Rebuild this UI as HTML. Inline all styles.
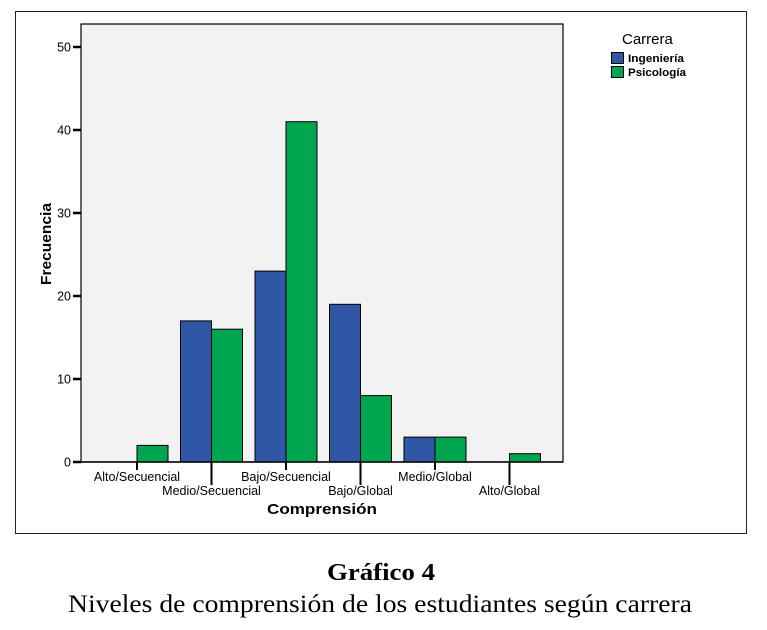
<!DOCTYPE html>
<html><head><meta charset="utf-8"><style>
body{margin:0;background:#fff;width:767px;height:630px;overflow:hidden}
svg{display:block}
</style></head><body>
<svg width="767" height="630" xmlns="http://www.w3.org/2000/svg" font-family="Liberation Sans, sans-serif">
<rect x="15.5" y="11.5" width="731" height="522" fill="#fff" stroke="#222" stroke-width="1"/>
<rect x="81" y="24" width="482" height="438" fill="#f2f2f2" stroke="#000" stroke-width="1.2"/>
<g id="bars"></g>
<g id="axes"></g>
<text x="51" y="244" transform="rotate(-90 51 244)" text-anchor="middle" font-size="15" font-weight="bold" textLength="82" lengthAdjust="spacingAndGlyphs">Frecuencia</text>
<text x="322" y="514" text-anchor="middle" font-size="15" font-weight="bold" textLength="110" lengthAdjust="spacingAndGlyphs">Comprensión</text>
<g>
<text x="622" y="44" font-size="15">Carrera</text>
<rect x="611.5" y="52.5" width="12" height="11" fill="#3057a6" stroke="#000"/>
<text x="628" y="62" font-size="11" font-weight="bold" textLength="56" lengthAdjust="spacingAndGlyphs">Ingeniería</text>
<rect x="611.5" y="66.5" width="12" height="11" fill="#00a550" stroke="#000"/>
<text x="628" y="76" font-size="11" font-weight="bold" textLength="58" lengthAdjust="spacingAndGlyphs">Psicología</text>
</g>
<text x="381" y="580" text-anchor="middle" font-family="Liberation Serif, serif" font-size="24" font-weight="bold" textLength="108" lengthAdjust="spacingAndGlyphs">Gráfico 4</text>
<text x="380" y="612" text-anchor="middle" font-family="Liberation Serif, serif" font-size="25" textLength="624" lengthAdjust="spacingAndGlyphs">Niveles de comprensión de los estudiantes según carrera</text>
</svg>
<script>
const categories=["Alto/Secuencial","Medio/Secuencial","Bajo/Secuencial","Bajo/Global","Medio/Global","Alto/Global"];
const ingenieria=[0,17,23,19,3,0];
const psicologia=[2,16,41,8,3,1];
const yTicks=[0,10,20,30,40,50];
const NS="http://www.w3.org/2000/svg";
const y=v=>462-v*(415/50);
const x=i=>137+i*74.5;
const bw=31;
function mk(tag,attrs,parent){const e=document.createElementNS(NS,tag);for(const k in attrs)e.setAttribute(k,attrs[k]);parent.appendChild(e);return e;}
const bars=document.getElementById('bars'),axes=document.getElementById('axes');
categories.forEach((c,i)=>{
  if(ingenieria[i]>0){const r=mk('rect',{x:x(i)-bw,y:y(ingenieria[i]),width:bw,height:462-y(ingenieria[i]),fill:'#3057a6',stroke:'#000','stroke-width':1},bars);
  
  }
  if(psicologia[i]>0){const r=mk('rect',{x:x(i),y:y(psicologia[i]),width:bw,height:462-y(psicologia[i]),fill:'#00a550',stroke:'#000','stroke-width':1},bars);
  
  }
  const long=i%2===1;
  const t=mk('line',{x1:x(i),x2:x(i),y1:462,y2:long?485:470,stroke:'#000','stroke-width':2},axes);
  
  
  const l=mk('text',{x:x(i),y:long?495:481,'text-anchor':'middle','font-size':12.5},axes);
  l.textContent=c;
  
  
});
yTicks.forEach(v=>{
  const t=mk('line',{x1:73,x2:81,y1:y(v),y2:y(v),stroke:'#000','stroke-width':2.5},axes);
  
  
  const l=mk('text',{x:71,y:y(v)+4.5,'text-anchor':'end','font-size':12.5},axes);
  l.textContent=v;
  
  
});
mk('line',{x1:81,x2:563,y1:462,y2:462,stroke:'#000','stroke-width':1.5},axes);
</script>
</body></html>
